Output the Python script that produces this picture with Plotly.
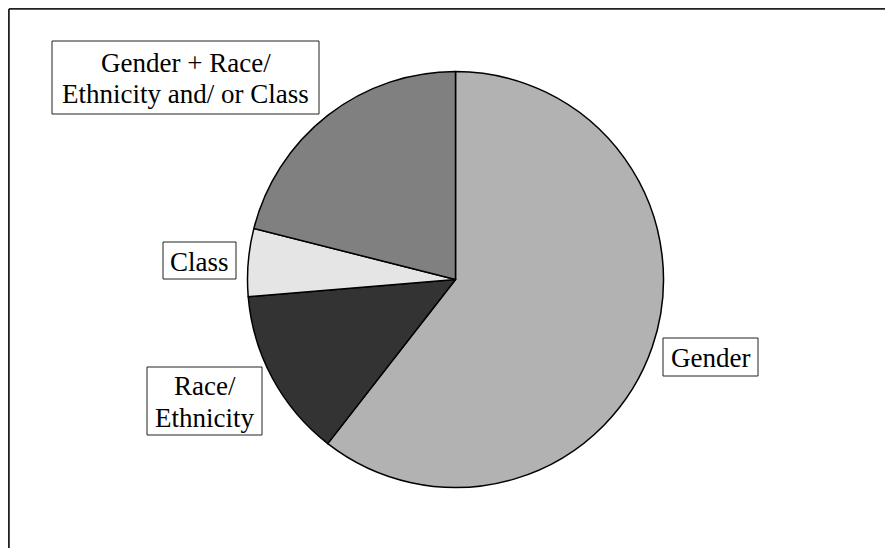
import plotly.graph_objects as go

# slices, clockwise from 12 o'clock
categories = ["Gender", "Race/ Ethnicity", "Class", "Gender + Race/ Ethnicity and/ or Class"]
counts = [23, 5, 2, 8]
slice_colors = ["#b2b2b2", "#333333", "#e5e5e5", "#808080"]

# label boxes: lines of text, box in page pixels (x0, y0, x1, y1) from top-left
label_lines = [
    ["Gender"],
    ["Race/", "Ethnicity"],
    ["Class"],
    ["Gender + Race/", "Ethnicity and/ or Class"],
]
label_boxes = [
    (663, 338, 758, 376),
    (147, 367, 262, 435),
    (163, 242, 236, 279),
    (52, 41, 319, 114),
]

# the page body has an 8px margin, so the figure is drawn 8px in
OFF = 8
W, H = 893 - OFF, 548 - OFF
FONT = "Liberation Serif, Times New Roman, serif"
LINE_GAP = 31.7


def px(x):
    return (x - OFF) / W


def py(y):
    return 1 - (y - OFF) / H


fig = go.Figure(go.Pie(
    labels=categories,
    values=counts,
    sort=False,
    direction="clockwise",
    rotation=0,
    textinfo="none",
    hoverinfo="label+percent",
    marker=dict(colors=slice_colors, line=dict(color="black", width=1.5)),
    domain=dict(x=[px(247.5), px(663.5)], y=[py(487.5), py(71.5)]),
    showlegend=False,
))

shapes = [
    # frame: left and top edges only
    dict(type="line", xref="paper", yref="paper", x0=0.9 / W, x1=0.9 / W, y0=0, y1=1 - 0.9 / H,
         line=dict(color="#222222", width=1.8)),
    dict(type="line", xref="paper", yref="paper", x0=0.9 / W, x1=1, y0=1 - 0.9 / H, y1=1 - 0.9 / H,
         line=dict(color="#222222", width=1.8)),
]
annotations = []
for lines, (x0, y0, x1, y1) in zip(label_lines, label_boxes):
    shapes.append(dict(type="rect", xref="paper", yref="paper",
                       x0=px(x0), x1=px(x1), y0=py(y1), y1=py(y0),
                       fillcolor="white", line=dict(color="#222222", width=1)))
    cx = (x0 + x1) / 2
    cy = (y0 + y1) / 2
    n = len(lines)
    for i, txt in enumerate(lines):
        ly = cy + (i - (n - 1) / 2) * LINE_GAP + 1
        annotations.append(dict(text=txt, xref="paper", yref="paper",
                                x=px(cx), y=py(ly), xanchor="center", yanchor="middle",
                                showarrow=False, font=dict(family=FONT, size=27, color="black")))

fig.update_layout(
    width=W, height=H,
    margin=dict(l=0, r=0, t=0, b=0),
    paper_bgcolor="white",
    plot_bgcolor="white",
    shapes=shapes,
    annotations=annotations,
)

fig.write_html("out.html")
